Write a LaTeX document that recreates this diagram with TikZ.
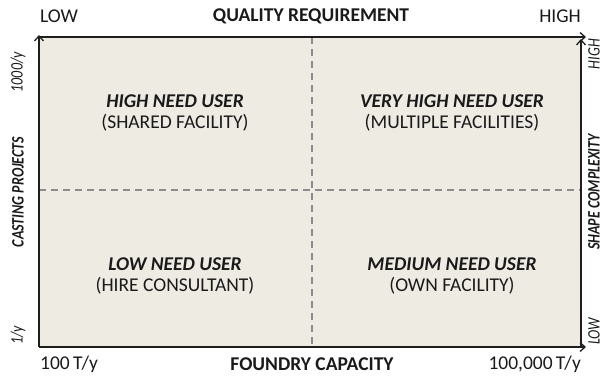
\documentclass[tikz,border=0pt]{standalone}
\usepackage{fontspec}
\setmainfont{Carlito}
\usetikzlibrary{arrows.meta}
\definecolor{bgfill}{HTML}{EDEBE2}
\definecolor{axis}{HTML}{1E1E1E}
\definecolor{dash}{HTML}{8C8C8C}
\definecolor{txt}{HTML}{1A1A1A}
\newcommand{\cond}[1]{\scalebox{0.8}[1]{#1}}
\tikzset{
  axisline/.style={draw=axis,line width=1.6pt,-{Straight Barb[length=5pt,width=9pt,line width=1.3pt]}},
  divider/.style={draw=dash,line width=1.3pt,dash pattern=on 7pt off 5pt},
  lbl/.style={font=\fontsize{19.5}{22}\selectfont,text=txt,inner sep=0pt},
  bold lbl/.style={lbl,font=\fontsize{19.5}{22}\selectfont\bfseries},
  side lbl/.style={font=\fontsize{17.5}{19}\selectfont\itshape,text=txt,inner sep=0pt,rotate=90},
  side bold/.style={font=\fontsize{17.5}{19}\selectfont\bfseries\itshape,text=txt,inner sep=0pt,rotate=90},
  qtitle/.style={font=\fontsize{19.5}{22}\selectfont\bfseries\itshape,text=txt,inner sep=0pt},
  qsub/.style={font=\fontsize{19.5}{22}\selectfont,text=txt,inner sep=0pt},
}
\begin{document}
\begin{tikzpicture}[x=1pt,y=1pt]
\useasboundingbox (0,0) rectangle (605,376);
\coordinate (bl) at (39,29);
\coordinate (tl) at (39,339);
\coordinate (br) at (581,29);
\coordinate (tr) at (581,339);
\fill[bgfill] (bl) rectangle (tr);
\coordinate (vtop) at (312,339);
\coordinate (vbot) at (312,29);
\coordinate (hl) at (39,186);
\coordinate (hr) at (581,186);
\draw[divider] (vtop) -- (vbot);
\draw[divider] (hl) -- (hr);
\coordinate (topend) at (586,339);
\coordinate (botend) at (586,29);
\coordinate (leftend) at (39,341);
\coordinate (rightend) at (581,337);
\draw[axisline] (bl) -- (leftend);
\draw[axisline] (br) -- (rightend);
\draw[axisline] (tl) -- (topend);
\draw[axisline] (bl) -- (botend);
% top labels
\node[lbl,anchor=west] (tlow) at (40,360) {LOW};
\node[bold lbl] (qual) at (311,360) {QUALITY REQUIREMENT};
\node[lbl,anchor=east] (thigh) at (581,360) {HIGH};
% bottom labels
\node[lbl,anchor=west] (b100) at (40,12) {100\,T/y};
\node[bold lbl] (found) at (312,12) {FOUNDRY CAPACITY};
\node[lbl,anchor=east] (b100k) at (581,12) {100,000\,T/y};
% left labels
\node[side lbl,anchor=east] (l1000) at (18,324) {\cond{1000/y}};
\node[side bold] (cast) at (18,184) {\cond{CASTING PROJECTS}};
\node[side lbl,anchor=west] (l1) at (18,31) {\cond{1/y}};
% right labels
\node[side lbl,anchor=east] (rhigh) at (594,337) {\cond{HIGH}};
\node[side bold] (shape) at (594,184) {\cond{SHAPE COMPLEXITY}};
\node[side lbl,anchor=west] (rlow) at (594,31) {\cond{LOW}};
% quadrants
\node[qtitle] (q1t) at (175,275) {HIGH NEED USER};
\node[qsub] (q1s) at (175,253) {(SHARED FACILITY)};
\node[qtitle] (q2t) at (452,275) {VERY HIGH NEED USER};
\node[qsub] (q2s) at (452,253) {(MULTIPLE FACILITIES)};
\node[qtitle] (q3t) at (175,112) {LOW NEED USER};
\node[qsub] (q3s) at (175,90) {(HIRE CONSULTANT)};
\node[qtitle] (q4t) at (452,112) {MEDIUM NEED USER};
\node[qsub] (q4s) at (452,90) {(OWN FACILITY)};
\end{tikzpicture}
\end{document}
